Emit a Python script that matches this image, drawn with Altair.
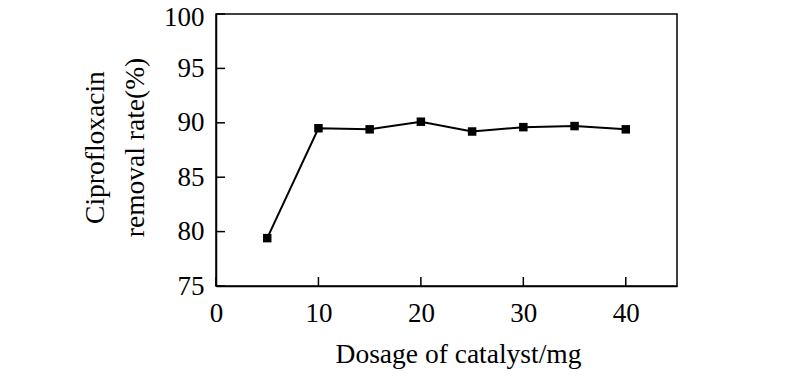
import altair as alt
import pandas as pd

dosage = [5, 10, 15, 20, 25, 30, 35, 40]
removal = [79.4, 89.5, 89.4, 90.1, 89.2, 89.6, 89.7, 89.4]
x_ticks = [0, 10, 20, 30, 40]
y_ticks = [75, 80, 85, 90, 95, 100]

df = pd.DataFrame({"dosage": dosage, "removal": removal})
xt = pd.DataFrame({"v": x_ticks})
yt = pd.DataFrame({"v": y_ticks})

W, H = 461, 272
FONT = "Liberation Serif"

xscale = alt.Scale(domain=[0, 45], nice=False, zero=False)
yscale = alt.Scale(domain=[75, 100], nice=False, zero=False)

base = alt.Chart(df)

line = base.mark_line(color="black", strokeWidth=2).encode(
    x=alt.X("dosage:Q", scale=xscale,
            axis=alt.Axis(title="Dosage of catalyst/mg", values=x_ticks, ticks=False,
                          tickSize=0, labelPadding=14, titlePadding=14, titleX=242,
                          labelFlush=False, grid=False)),
    y=alt.Y("removal:Q", scale=yscale,
            axis=alt.Axis(title=["Ciprofloxacin", "removal rate(%)"], values=y_ticks,
                          ticks=False, tickSize=0, labelPadding=12, grid=False,
                          labelOffset={"condition": {"test": "datum.value == 100", "value": 3},
                                       "value": 0},
                          titleX=-107, titleY=133, titleLineHeight=40)),
)
pts = base.mark_point(shape="square", filled=True, color="black", size=72, opacity=1).encode(
    x=alt.X("dosage:Q", scale=xscale),
    y=alt.Y("removal:Q", scale=yscale),
)
xtick = alt.Chart(xt).mark_rule(color="black", strokeWidth=1.5).encode(
    x=alt.X("v:Q", scale=xscale),
    y=alt.value(H),
    y2=alt.value(H - 9),
)
ytick = alt.Chart(yt).mark_rule(color="black", strokeWidth=1.5).encode(
    y=alt.Y("v:Q", scale=yscale),
    x=alt.value(0),
    x2=alt.value(9),
)

chart = alt.layer(xtick, ytick, line, pts).properties(
    width=W, height=H,
    autosize=alt.AutoSizeParams(type="none"),
    padding={"left": 208, "top": 6, "right": 10, "bottom": 90},
    background="white",
).configure_view(
    stroke="black", strokeWidth=1.5
).configure_axis(
    domainColor="black", domainWidth=1.5,
    labelFont=FONT, titleFont=FONT, labelColor="black", titleColor="black",
    labelFontSize=27, titleFontSize=27.5, titleFontWeight="normal",
)

chart.save("out.html", embed_options={"renderer": "svg", "actions": False})
